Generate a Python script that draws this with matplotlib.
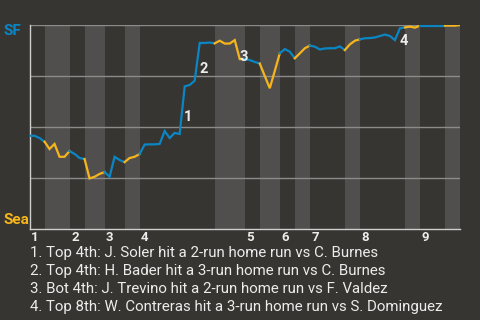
import matplotlib
matplotlib.use("Agg")
import matplotlib.pyplot as plt
from matplotlib.transforms import blended_transform_factory

plt.rcParams["font.family"] = ["Roboto", "DejaVu Sans"]

# ─────────────────────────────────────────────────────────────
#  DATA  (SF win probability after each plate appearance)
# ─────────────────────────────────────────────────────────────
win_prob = [
    0.457, 0.457, 0.446, 0.428, 0.392, 0.417, 0.354, 0.354, 0.382, 0.368,
    0.348, 0.343, 0.248, 0.256, 0.270, 0.279, 0.256, 0.354, 0.338, 0.328,
    0.348, 0.354, 0.368, 0.414, 0.415, 0.415, 0.417, 0.480, 0.446, 0.471,
    0.466, 0.699, 0.706, 0.727, 0.912, 0.912, 0.914, 0.910, 0.923, 0.909,
    0.909, 0.926, 0.833, 0.833, 0.828, 0.819, 0.811, 0.750, 0.690, 0.775,
    0.861, 0.882, 0.869, 0.837, 0.861, 0.886, 0.899, 0.894, 0.880, 0.885,
    0.886, 0.886, 0.895, 0.877, 0.905, 0.923, 0.930, 0.935, 0.936, 0.939,
    0.946, 0.953, 0.946, 0.926, 0.984, 0.988, 0.992, 0.987, 0.997, 0.997,
    0.997, 0.997, 0.997, 0.997, 0.997, 0.997, 1.000,
]
# index where each half inning starts (top 1st, bot 1st, ..., bot 9th, end)
half_starts = [0, 3, 8, 11, 15, 19, 22, 37, 43, 46, 50, 53, 56, 63, 66, 75, 78, 83, 86]
innings = ["1", "2", "3", "4", "5", "6", "7", "8", "9"]

hr_index = [31, 34, 42, 74]     # plate appearance after each home run
hr_notes = [
    "1. Top 4th: J. Soler hit a 2-run home run vs C. Burnes",
    "2. Top 4th: H. Bader hit a 3-run home run vs C. Burnes",
    "3. Bot 4th: J. Trevino hit a 2-run home run vs F. Valdez",
    "4. Top 8th: W. Contreras hit a 3-run home run vs S. Dominguez",
]
teams = ["SF", "Sea"]

BG = "#373531"
BAND = "#504f4d"
BLUE = "#0a86c4"
ORANGE = "#f7b51c"
TXT = "#ececec"

# ─────────────────────────────────────────────────────────────
#  PLOT
# ─────────────────────────────────────────────────────────────
fig = plt.figure(figsize=(4.8, 3.2), dpi=100, facecolor=BG)
ax = fig.add_axes([29.5 / 480, 91 / 320, 430.5 / 480, 204 / 320], facecolor=BG)

x = list(range(len(win_prob)))

# half-inning shading + coloured line pieces
for k in range(len(half_starts) - 1):
    a, b = half_starts[k], half_starts[k + 1]
    bottom_half = k % 2 == 1
    if bottom_half:
        ax.axvspan(a, b, color=BAND, lw=0, zorder=0)
    ax.plot(x[a:b + 1], win_prob[a:b + 1], color=ORANGE if bottom_half else BLUE,
            lw=1.6, solid_joinstyle="miter", zorder=3)

for gy in [0.25, 0.5, 0.75, 1.0]:
    ax.axhline(gy, color="#8c8b89", lw=1, zorder=1.5)

ax.set_xlim(0, half_starts[-1])
ax.set_ylim(0, 1)
ax.set_xticks([])
ax.set_yticks([])
for s in ["top", "right"]:
    ax.spines[s].set_visible(False)
for s in ["left", "bottom"]:
    ax.spines[s].set_color("#cfcfcf")
    ax.spines[s].set_linewidth(1)

# home run markers
for n, i in enumerate(hr_index, start=1):
    mx = (x[i - 1] + x[i]) / 2
    my = (win_prob[i - 1] + win_prob[i]) / 2
    ax.annotate(str(n), (mx, my), xytext=(1.5, 0), textcoords="offset points",
                ha="left", va="top", color=TXT, fontsize=10.5, fontweight="bold", zorder=4)

# inning numbers under the axis
trans = blended_transform_factory(ax.transData, ax.transAxes)
for lab, st in zip(innings, half_starts[0::2]):
    ax.text(st + 0.3, -0.012, lab, transform=trans, ha="left", va="top",
            color=TXT, fontsize=9.5, fontweight="bold")

# team labels
fig.text(3 / 480, 1 - 31 / 320, teams[0], color=BLUE, fontsize=11,
         fontweight="bold", ha="left", va="center")
fig.text(3 / 480, 1 - 220 / 320, teams[1], color=ORANGE, fontsize=11,
         fontweight="bold", ha="left", va="center")

# footnotes
for j, note in enumerate(hr_notes):
    fig.text(30 / 480, 1 - (253.5 + 17.7 * j) / 320, note, color=TXT,
             fontsize=10.85, ha="left", va="center")

fig.savefig("out.png", dpi=100, facecolor=BG)
